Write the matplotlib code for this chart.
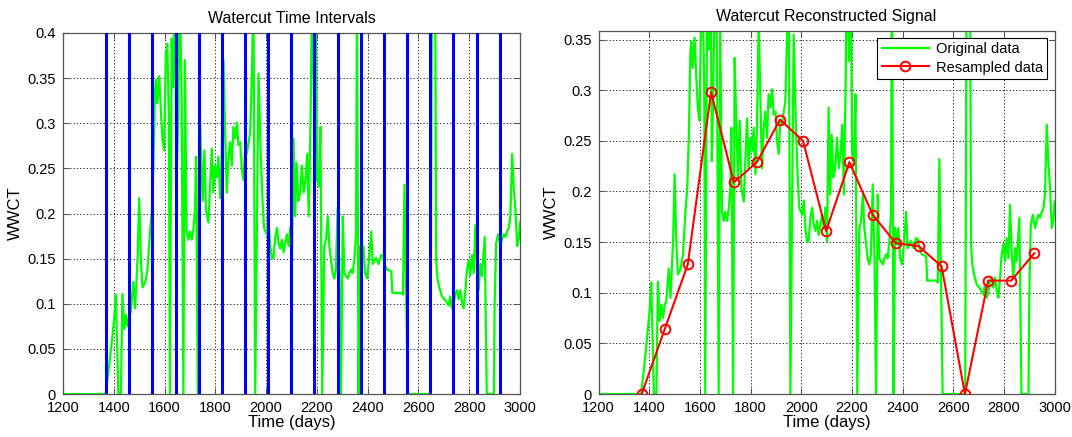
import numpy as np
import matplotlib
matplotlib.use('Agg')
import matplotlib.pyplot as plt

plt.rcParams['font.family'] = ['Liberation Sans', 'DejaVu Sans']

# original watercut signal (values above the axis top are clipped)
days = [1200, 1368, 1382, 1395, 1402, 1408, 1412, 1418, 1428, 1434, 1441, 1448, 1454, 1461,
        1467, 1477, 1484, 1494, 1500, 1507, 1513, 1524, 1533, 1542, 1550, 1556, 1562, 1566,
        1571, 1579, 1586, 1592, 1598, 1605, 1611, 1617, 1621, 1628, 1634, 1641, 1647, 1653,
        1660, 1667, 1674, 1680, 1687, 1694, 1700, 1707, 1714, 1720, 1724, 1731, 1737, 1744,
        1750, 1757, 1763, 1773, 1779, 1786, 1792, 1799, 1806, 1812, 1819, 1825, 1832, 1838,
        1845, 1852, 1858, 1865, 1871, 1878, 1885, 1891, 1898, 1904, 1911, 1917, 1924, 1931,
        1937, 1944, 1950, 1957, 1964, 1970, 1979, 1986, 1992, 2003, 2010, 2016, 2023, 2029,
        2036, 2043, 2049, 2056, 2062, 2069, 2075, 2082, 2089, 2095, 2102, 2108, 2114, 2120,
        2127, 2134, 2141, 2148, 2155, 2162, 2168, 2175, 2181, 2188, 2195, 2201, 2208, 2214,
        2221, 2229, 2236, 2243, 2249, 2256, 2262, 2269, 2275, 2282, 2289, 2295, 2302, 2308,
        2315, 2322, 2328, 2335, 2341, 2348, 2354, 2358, 2364, 2370, 2377, 2383, 2390, 2398,
        2406, 2414, 2420, 2427, 2433, 2443, 2453, 2460, 2466, 2476, 2493, 2497, 2532, 2539,
        2545, 2552, 2558, 2647, 2653, 2666, 2670, 2675, 2682, 2693, 2703, 2712, 2719, 2725,
        2732, 2739, 2745, 2752, 2758, 2765, 2772, 2778, 2785, 2791, 2798, 2804, 2811, 2818,
        2824, 2831, 2837, 2844, 2850, 2861, 2869, 2897, 2900, 2906, 2914, 2923, 2929, 2936,
        2943, 2949, 2956, 2962, 2969, 2975, 2982, 2989, 2995, 3000]
wwct = [0, 0, 0.032, 0.065, 0.085, 0.110, 0.065, 0, 0, 0.111, 0.072, 0.088, 0.075, 0.088,
        0.091, 0.124, 0.095, 0.151, 0.217, 0.148, 0.118, 0.124, 0.138, 0.177, 0.204, 0.253, 0.335, 0.348,
        0.322, 0.352, 0.311, 0.281, 0.270, 0.377, 0.388, 0.304, 0, 0.394, 0.340, 0.45, 0.230, 0.300,
        0.45, 0.340, 0, 0.370, 0.180, 0.171, 0.180, 0.171, 0.184, 0.204, 0.263, 0, 0.332, 0.263,
        0.214, 0.270, 0.204, 0.190, 0.230, 0.272, 0.223, 0.253, 0.240, 0.263, 0.217, 0.263, 0.370, 0.296,
        0.223, 0.263, 0.279, 0.253, 0.296, 0.283, 0.301, 0.276, 0.279, 0.250, 0.237, 0.270, 0.266, 0.279,
        0.289, 0.352, 0.45, 0, 0.197, 0.355, 0.263, 0.214, 0.184, 0.177, 0.191, 0.164, 0.150, 0.151,
        0.174, 0.184, 0.167, 0.161, 0.171, 0.157, 0.167, 0.177, 0.164, 0.184, 0.151, 0.283, 0.197, 0.256,
        0.214, 0.223, 0.253, 0.223, 0.237, 0.266, 0.197, 0.303, 0.45, 0.329, 0.42, 0.237, 0.230, 0.296,
        0, 0.164, 0.171, 0.197, 0.164, 0.148, 0.134, 0.128, 0.138, 0.207, 0.134, 0, 0.197, 0.134,
        0.131, 0.128, 0.134, 0.138, 0.134, 0.151, 0.177, 0.45, 0, 0.164, 0.148, 0.164, 0.134, 0.128,
        0.151, 0.180, 0.144, 0.148, 0.151, 0.144, 0.154, 0.153, 0.144, 0.138, 0.136, 0.112, 0.112, 0.110,
        0.232, 0.105, 0, 0, 0.45, 0.45, 0.148, 0.128, 0.118, 0.108, 0.105, 0.101, 0.098, 0.108,
        0.095, 0.101, 0.111, 0.115, 0.105, 0.115, 0.101, 0.095, 0.115, 0.138, 0.148, 0.131, 0.154, 0.134,
        0.187, 0.138, 0.115, 0.144, 0.131, 0.174, 0, 0, 0.098, 0.167, 0.177, 0.164, 0.171, 0.177,
        0.174, 0.180, 0.184, 0.197, 0.266, 0.230, 0.204, 0.164, 0.171, 0.190]

# interval boundaries and resampled values
interval_days = [1370, 1461, 1552, 1644, 1734, 1825, 1916, 2007, 2098, 2190, 2282, 2373,
                 2464, 2554, 2646, 2738, 2829, 2920]
resampled = [0, 0.064, 0.128, 0.298, 0.209, 0.229, 0.271, 0.250, 0.161, 0.229, 0.177, 0.149,
             0.146, 0.126, 0, 0.112, 0.112, 0.139]

xticks = np.arange(1200, 3001, 200)
edge = '#555555'


def style(ax, ymax, ystep):
    ax.set_xlim(1200, 3000)
    ax.set_ylim(0, ymax)
    ax.set_xticks(xticks)
    yt = np.round(np.arange(0, ymax + 1e-9, ystep), 2)
    ax.set_yticks(yt)
    ax.set_yticklabels(['0' if v == 0 else ('%g' % v) for v in yt])
    ax.grid(True, color='k', linestyle=(0, (1.5, 2.5)), linewidth=0.6)
    ax.tick_params(direction='in', top=True, right=True, labelsize=10.5, length=4, color=edge)
    ax.tick_params(axis='x', pad=5)
    ax.tick_params(axis='y', pad=5)
    for s in ax.spines.values():
        s.set_color(edge)
        s.set_linewidth(0.9)
    ax.set_xlabel('Time (days)', fontsize=12, labelpad=0)
    ax.set_ylabel('WWCT', fontsize=12, labelpad=3)


fig = plt.figure(figsize=(10.72, 4.37), dpi=100)
ax1 = fig.add_axes([63 / 1072, 43 / 437, 457 / 1072, 361 / 437])
ax2 = fig.add_axes([598.6 / 1072, 43 / 437, 456 / 1072, 363.5 / 437])

ax1.plot(days, wwct, color=(0, 1, 0), linewidth=1.6, zorder=2)
for d in interval_days:
    ax1.axvline(d, color=(0, 0, 1), linewidth=2.2, zorder=3)
style(ax1, 0.4, 0.05)
ax1.set_title('Watercut Time Intervals', fontsize=11.5, pad=7)

ax2.plot(days, wwct, color=(0, 1, 0), linewidth=1.6, label='Original data', zorder=2)
ax2.plot(interval_days, resampled, color=(1, 0, 0), linewidth=1.5, marker='o',
         markersize=7, markerfacecolor='none', markeredgewidth=1.4,
         label='Resampled data', zorder=3)
style(ax2, 0.359, 0.05)
ax2.set_title('Watercut Reconstructed Signal', fontsize=11.5, pad=7)
leg = ax2.legend(loc='upper right', fontsize=10.5, fancybox=False, framealpha=1,
                 borderaxespad=0.5, handlelength=3.2, handletextpad=0.5,
                 borderpad=0.3, labelspacing=0.3)
leg.get_frame().set_edgecolor('k')
leg.get_frame().set_linewidth(0.8)

fig.savefig('out.png', dpi=100)
